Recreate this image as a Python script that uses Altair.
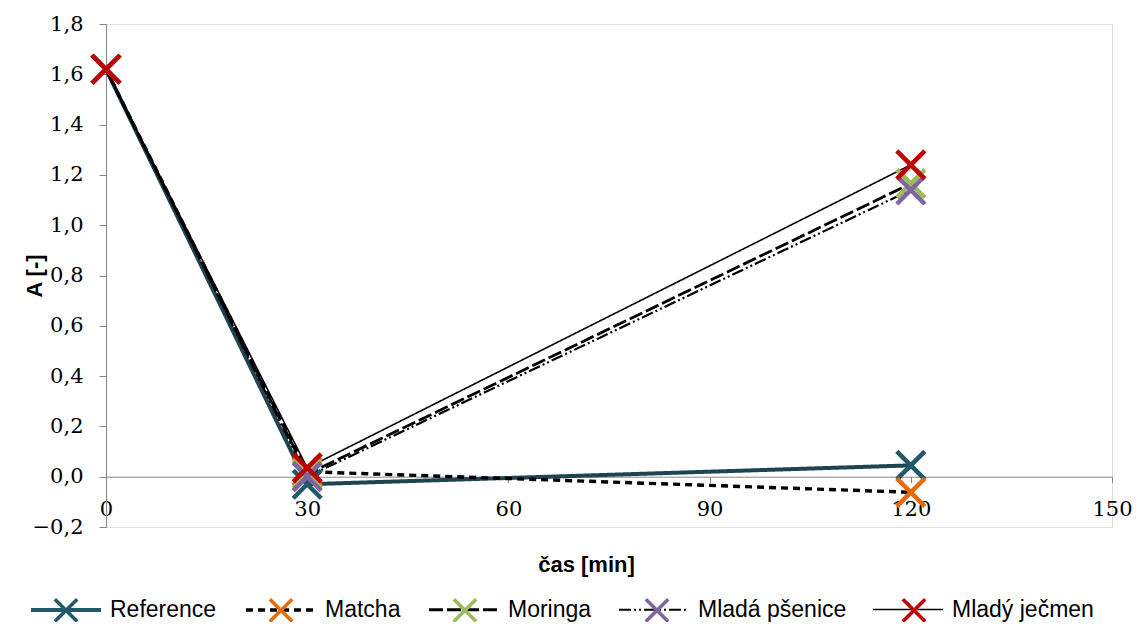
import altair as alt
import pandas as pd

series = ["Reference", "Matcha", "Moringa", "Mladá pšenice", "Mladý ječmen"]
times = [0, 30, 120]
reference = [1.62, -0.03, 0.045]
matcha = [1.62, 0.02, -0.062]
moringa = [1.62, 0.01, 1.165]
psenice = [1.62, 0.0, 1.14]
jecmen = [1.62, 0.035, 1.24]

marker_colors = ["#215968", "#e46c0a", "#9bbb59", "#8064a2", "#c00000"]
line_colors = ["#1d4450", "#000000", "#000000", "#000000", "#000000"]
line_dashes = [[1, 0], [7, 5], [14, 4], [12, 3, 2, 3, 2, 3], [1, 0]]
line_widths = [4, 1.6, 1.6, 1.6, 2.2]
x_ticks = [0, 30, 60, 90, 120, 150]
y_ticks = [-0.2, 0.0, 0.2, 0.4, 0.6, 0.8, 1.0, 1.2, 1.4, 1.6, 1.8]

values = [reference, matcha, moringa, psenice, jecmen]
rows = []
for s, vals in zip(series, values):
    for t, v in zip(times, vals):
        rows.append({"series": s, "series2": s, "time": t, "value": v})
df = pd.DataFrame(rows)

W, H = 1006, 503
zero_off = -(H * 0.2 / 2.0)

SERIF = "DejaVu Serif"
SANS = "Arial, Liberation Sans, sans-serif"

LEG_X = -77
LEG_Y = 549
LEG_SW = 3.5
leg_common = dict(
    orient="none", direction="horizontal", legendX=LEG_X, legendY=LEG_Y,
    title=None, symbolSize=4900, labelFont=SANS, labelFontSize=23,
    labelOffset=7, columnPadding=22, padding=0, labelLimit=400, columns=5,
)

ref_stroke = f"datum.value === '{series[0]}' ? '{marker_colors[0]}' : '#000000'"

x_enc = alt.X("time:Q", scale=alt.Scale(domain=[0, 150], nice=False),
              axis=alt.Axis(values=x_ticks, offset=zero_off, grid=False,
                            domainColor="#868686", tickColor="#868686", tickSize=6,
                            labelPadding=16, labelFont=SERIF, labelFontSize=21,
                            labelColor="#000000", labelFlush=False,
                            title="čas [min]", titleFont=SANS, titleFontSize=22,
                            titleFontWeight="bold", titleColor="#000000",
                            titleX=480, titleY=95, titleBaseline="alphabetic"))
y_enc = alt.Y("value:Q", scale=alt.Scale(domain=[-0.2, 1.8], nice=False, zero=False),
              axis=alt.Axis(values=y_ticks, grid=False, domainColor="#868686",
                            tickColor="#868686", tickSize=7, labelPadding=16,
                            labelFont=SERIF, labelFontSize=21, labelColor="#000000",
                            labelExpr="replace(format(datum.value, '.1f'), '.', ',')",
                            title="A [-]", titleFont=SANS, titleFontSize=22,
                            titleFontWeight="bold", titleColor="#000000",
                            titleX=-72, titleY=H / 2, titleAlign="center",
                            titleBaseline="middle", titleAngle=270))

lines = alt.Chart(df).mark_line().encode(
    x=x_enc, y=y_enc,
    color=alt.Color("series:N", scale=alt.Scale(domain=series, range=line_colors),
                    legend=None),
    strokeDash=alt.StrokeDash("series:N", scale=alt.Scale(domain=series, range=line_dashes),
                              legend=alt.Legend(
                                  symbolType="stroke",
                                  symbolStrokeColor=alt.ExprRef(ref_stroke),
                                  symbolStrokeWidth=LEG_SW,
                                  **leg_common)),
    strokeWidth=alt.StrokeWidth("series:N", scale=alt.Scale(domain=series, range=line_widths),
                                legend=None),
    order=alt.Order("time:Q"),
    detail="series:N",
)

points = alt.Chart(df).mark_point(
    shape="M-1,-1L1,1M-1,1L1,-1", size=784, strokeWidth=4.5, filled=False, opacity=1
).encode(
    x="time:Q", y="value:Q",
    color=alt.Color("series2:N", scale=alt.Scale(domain=series, range=marker_colors),
                    legend=alt.Legend(
                        symbolType="M-1,0M1,0M-0.32,-0.32L0.32,0.32M-0.32,0.32L0.32,-0.32",
                        symbolStrokeWidth=LEG_SW,
                        labelColor="rgba(0,0,0,0)", **leg_common)),
)

chart = alt.layer(lines, points).resolve_scale(color="independent").properties(
    width=W, height=H,
    autosize=alt.AutoSizeParams(type="none"),
    padding={"left": 98, "top": 16, "right": 21, "bottom": 95},
).configure_view(stroke=None).configure(background="white")

chart.save("out.html", embed_options={"renderer": "svg", "actions": False})
